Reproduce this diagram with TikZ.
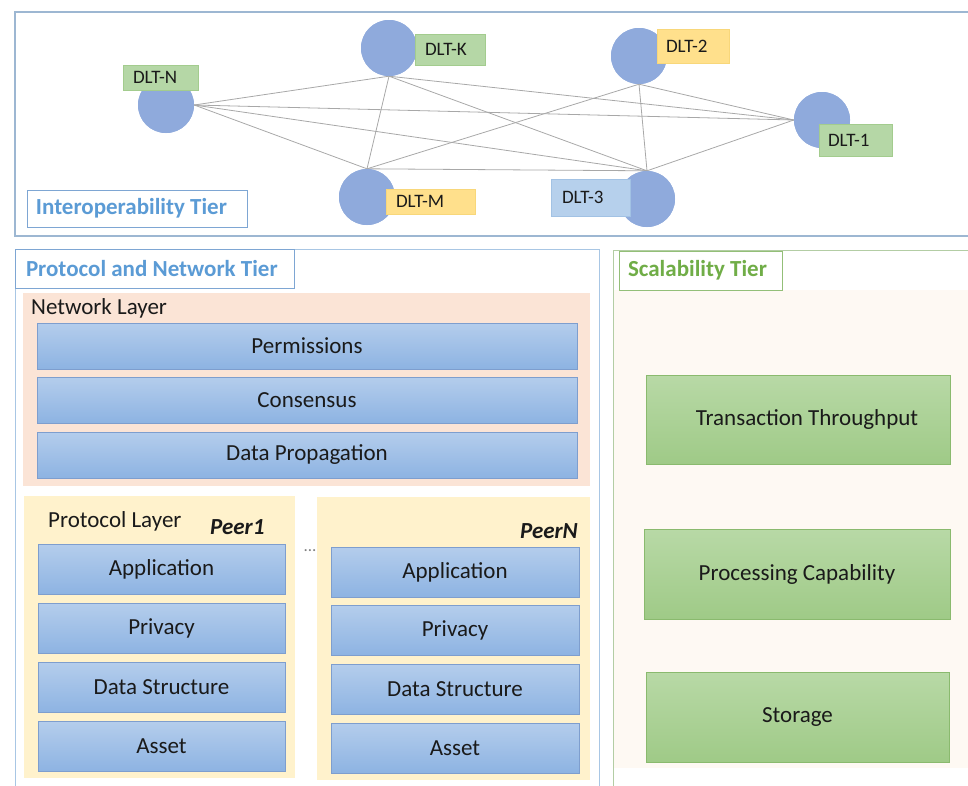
\documentclass[tikz,border=0pt]{standalone}
\usepackage{fontspec}
\setmainfont{Carlito}
\definecolor{framblue}{HTML}{9DB7D2}
\definecolor{titleblue}{HTML}{5B9BD5}
\definecolor{titleline}{HTML}{7EA6D3}
\definecolor{protoframe}{HTML}{A8C6E4}
\definecolor{scaleframe}{HTML}{B3CDA4}
\definecolor{scaletitle}{HTML}{70AD47}
\definecolor{scaleline}{HTML}{93BF78}
\definecolor{cream}{HTML}{FEF9F3}
\definecolor{peach}{HTML}{FBE4D6}
\definecolor{peeryellow}{HTML}{FFF2CC}
\definecolor{bartop}{HTML}{B4CDEC}
\definecolor{barbot}{HTML}{8DB3E2}
\definecolor{barline}{HTML}{7E9ECE}
\definecolor{grtop}{HTML}{B8D9A6}
\definecolor{grbot}{HTML}{9FCA87}
\definecolor{grline}{HTML}{8ABA6E}
\definecolor{dltblue}{HTML}{8FAADC}
\definecolor{tagGreen}{HTML}{B5D7A6}
\definecolor{tagGreenLine}{HTML}{A3CC8E}
\definecolor{tagYellow}{HTML}{FFE08C}
\definecolor{tagYellowLine}{HTML}{F8D77A}
\definecolor{tagBlue}{HTML}{B6D0EC}
\definecolor{tagBlueLine}{HTML}{A2C2E4}
\definecolor{edgegray}{HTML}{A8A8A8}
\definecolor{ink}{HTML}{1A1A1A}
% fixed-width, left-aligned text box: width, left padding, text
\newcommand{\lbox}[3]{\makebox[#1][l]{\hspace*{#2}#3}}
\begin{document}
\begin{tikzpicture}[x=1pt,y=-1pt,
  body/.style={font=\fontsize{23}{27}\selectfont, text=ink},
  bluebar/.style={draw=barline, line width=0.8pt, top color=bartop, bottom color=barbot,
    body, inner sep=0pt},
  greenbar/.style={draw=grline, line width=0.8pt, top color=grtop, bottom color=grbot,
    body, inner sep=0pt, minimum width=304pt, minimum height=89pt},
  dlt/.style={circle, fill=dltblue, minimum size=56pt, inner sep=0pt},
  tag/.style={rectangle, line width=0.8pt, inner sep=0pt,
    font=\fontsize{19}{22}\selectfont, text=ink},
  tiertitle/.style={rectangle, fill=white, line width=1pt, inner sep=0pt,
    font=\bfseries\fontsize{23}{27}\selectfont},
  edge/.style={draw=edgegray, line width=0.8pt},
  plain/.style={inner sep=0pt, body}]
\useasboundingbox (0,0) rectangle (968,785);

% ---------- Interoperability tier ----------
\draw[framblue, line width=1.2pt] (15,12) rectangle (980,236);

\node[dlt] (dN) at (166,105) {};
\node[dlt] (dK) at (389,48) {};
\node[dlt] (dM) at (367,197) {};
\node[dlt] (d2) at (639,56) {};
\node[dlt] (d1) at (822,120) {};
\node[dlt] (d3) at (647,199) {};

\foreach \a/\b in {dN.east/dK.south, dN.east/dM.north, dN.east/d1.west, dN.east/d3.north,
                   dK.south/dM.north, dK.south/d1.west, dK.south/d3.north,
                   dM.north/d2.south, dM.north/d3.north,
                   d2.south/d3.north, d2.south/d1.west, d3.north/d1.west}
  \draw[edge] (\a) -- (\b);

% circles redrawn over the line ends
\foreach \n in {dN,dK,dM,d2,d1,d3} \fill[dltblue] (\n) circle (28pt);

\node[tag, fill=tagGreen, draw=tagGreenLine, minimum height=25pt] (tN) at (160.5,77.5) {\lbox{75pt}{10pt}{DLT-N}};
\node[tag, fill=tagGreen, draw=tagGreenLine, minimum height=31pt] (tK) at (450,49.5) {\lbox{70pt}{10pt}{DLT-K}};
\node[tag, fill=tagYellow, draw=tagYellowLine, minimum height=25pt] (tM) at (430.5,201.5) {\lbox{89pt}{10pt}{DLT-M}};
\node[tag, fill=tagYellow, draw=tagYellowLine, minimum height=34pt] (t2) at (693,46) {\lbox{72pt}{9pt}{DLT-2}};
\node[tag, fill=tagGreen, draw=tagGreenLine, minimum height=32pt] (t1) at (855.5,140) {\lbox{73pt}{9pt}{DLT-1}};
\node[tag, fill=tagBlue, draw=tagBlueLine, minimum height=37pt] (t3) at (590.5,197.5) {\lbox{79pt}{11pt}{DLT-3}};

\node[tiertitle, draw=titleline, text=titleblue, minimum height=37pt] (interop) at (137,208.5)
  {\lbox{220pt}{9pt}{Interoperability Tier}};

% ---------- Protocol and network tier ----------
\draw[protoframe, line width=1pt] (15,249) rectangle (599,795);
\node[tiertitle, draw=titleline, text=titleblue, minimum height=39pt] (prottitle) at (154.5,268.5)
  {\lbox{279pt}{11pt}{Protocol and Network Tier}};

\fill[peach] (23,293) rectangle (590,486);
\node[plain, anchor=west] (netlab) at (31,308) {Network Layer};
\node[bluebar, minimum width=540pt, minimum height=46pt] (perm) at (307,346) {Permissions};
\node[bluebar, minimum width=540pt, minimum height=46pt] (cons) at (307,400) {Consensus};
\node[bluebar, minimum width=540pt, minimum height=46pt] (prop) at (307,455) {Data Propagation};

% peer 1
\fill[peeryellow] (24,496) rectangle (295,778);
\node[plain, anchor=west] (protlab) at (48,521) {Protocol Layer};
\node[plain, anchor=west, font=\bfseries\itshape\fontsize{23}{27}\selectfont] (peer1) at (210,527) {Peer1};
\foreach \nm/\lab/\yy in {aA/Application/569.5, aB/Privacy/628.5, aC/Data Structure/687.5, aD/Asset/746.5}
  \node[bluebar, minimum width=247pt, minimum height=50pt] (\nm) at (161.5,\yy) {\lab};

% peer N
\fill[peeryellow] (317,497) rectangle (590,780);
\node[plain, anchor=east, font=\bfseries\itshape\fontsize{23}{27}\selectfont] (peerN) at (578,531) {PeerN};
\foreach \nm/\lab/\yy in {bA/Application/572, bB/Privacy/630.5, bC/Data Structure/689.5, bD/Asset/748}
  \node[bluebar, minimum width=248pt, minimum height=50pt] (\nm) at (455,\yy) {\lab};

\node[inner sep=0pt, text=black!50, font=\fontsize{17}{18}\selectfont] (dots) at (310,551) {...};

% ---------- Scalability tier ----------
\fill[cream] (613,290) rectangle (980,768);
\draw[scaleframe, line width=1pt] (613,795) -- (613,250) -- (980,250);
\node[tiertitle, draw=scaleline, text=scaletitle, minimum height=39pt] (scaletitle) at (700.5,270.5)
  {\lbox{163pt}{9pt}{Scalability Tier}};

\node[greenbar] (tput) at (798,419.5) {\hspace*{18pt}Transaction Throughput};
\node[greenbar, minimum width=306pt, minimum height=90pt] (proc) at (797,574) {Processing Capability};
\node[greenbar, minimum width=303pt, minimum height=90pt] (stor) at (797.5,717) {Storage};
\end{tikzpicture}
\end{document}
